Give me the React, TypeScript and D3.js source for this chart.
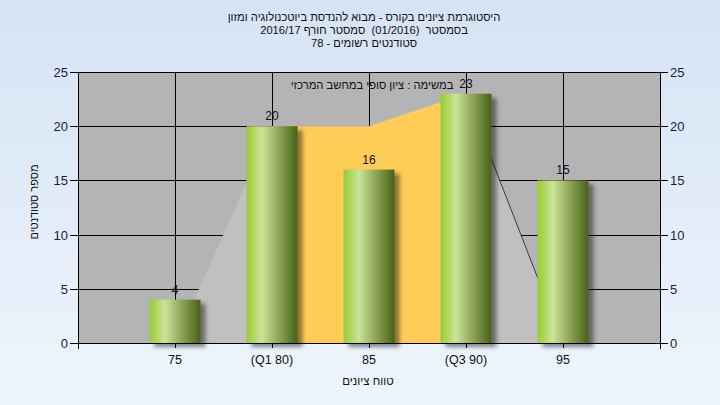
import React from "react";
import * as d3 from "d3";

const titleLines = [
  "היסטוגרמת ציונים בקורס - מבוא להנדסת ביוטכנולוגיה ומזון",
  "בסמסטר  (01/2016)  סמסטר חורף 2016/17",
  "סטודנטים רשומים - 78",
];
const grades = [75, 80, 85, 90, 95];
const categoryLabels = ["75", "(Q1 80)", "85", "(Q3 90)", "95"];
const counts = [4, 20, 16, 23, 15];
// background range area (light gray)
const rangeGrades = [75, 80, 85, 90, 95];
const rangeValues = [0, 20, 20, 23, 0];
// interquartile area (yellow)
const iqrGrades = [80, 85, 90];
const iqrValues = [20, 20, 23];
const yTicks = [0, 5, 10, 15, 20, 25];
const noteText = "במשימה : ציון סופי במחשב המרכזי";
const xTitle = "טווח ציונים";
const yTitle = "מספר סטודנטים";

const W = 720, H = 405;
const L = 78, R = 660, T = 72, B = 343;
const FONT = "'Liberation Sans', Arial, sans-serif";

export default function App() {
  const x = d3.scaleLinear().domain([70, 100]).range([L, R]);
  const y = d3.scaleLinear().domain([0, 25]).range([B, T]);
  const barW = 51;

  const rangeArea = d3
    .area<number>()
    .x((_, i) => x(rangeGrades[i]))
    .y0(y(0))
    .y1((d) => y(d));
  const iqrArea = d3
    .area<number>()
    .x((_, i) => x(iqrGrades[i]))
    .y0(y(0))
    .y1((d) => y(d));
  const n = rangeGrades.length;
  const edgeLine = d3.line<number>()([
    [x(rangeGrades[n - 2]), y(rangeValues[n - 2])],
    [x(rangeGrades[n - 1]), y(rangeValues[n - 1])],
  ] as any);

  return (
    <svg width={W} height={H} style={{ position: "absolute", left: 0, top: 0 }} fontFamily={FONT}>
      <defs>
        <linearGradient id="bg" x1="0" y1="0" x2="0" y2="1">
          <stop offset="0" stopColor="#d6e3f4" />
          <stop offset="1" stopColor="#eef5fd" />
        </linearGradient>
        <linearGradient id="bar" x1="0" y1="0" x2="1" y2="0">
          <stop offset="0" stopColor="#9acb36" />
          <stop offset="0.1" stopColor="#a9d351" />
          <stop offset="0.3" stopColor="#cbe498" />
          <stop offset="0.5" stopColor="#a7bd72" />
          <stop offset="0.75" stopColor="#76913f" />
          <stop offset="1" stopColor="#48601c" />
        </linearGradient>
        <filter id="shadow" x="-20%" y="-10%" width="150%" height="130%">
          <feDropShadow dx="5" dy="4" stdDeviation="2" floodColor="#000" floodOpacity="0.45" />
        </filter>
        <clipPath id="plot">
          <rect x={L} y={T} width={R - L} height={B - T} />
        </clipPath>
      </defs>
      <rect x={0} y={0} width={W} height={H} fill="url(#bg)" />

      {titleLines.map((t, i) => (
        <text key={i} x={364} y={21 + i * 13} textAnchor="middle" fontSize={11.2} fill="#111" direction="rtl" style={{ whiteSpace: "pre" }}>
          {t}
        </text>
      ))}

      <rect x={L} y={T} width={R - L} height={B - T} fill="#b4b4b4" />
      <g stroke="#000" strokeWidth={1}>
        {yTicks.map((t) => (
          <line key={"h" + t} x1={L} x2={R} y1={Math.round(y(t)) + 0.5} y2={Math.round(y(t)) + 0.5} />
        ))}
        {grades.map((g) => (
          <line key={"v" + g} x1={Math.round(x(g)) + 0.5} x2={Math.round(x(g)) + 0.5} y1={T} y2={B} />
        ))}
      </g>
      <g clipPath="url(#plot)">
        <path d={rangeArea(rangeValues) || ""} fill="#c0c0c0" />
        <path d={iqrArea(iqrValues) || ""} fill="#ffcc58" />
        <path d={edgeLine || ""} stroke="#3a3a3a" strokeWidth={1} fill="none" />
      </g>

      <text x={372} y={89} textAnchor="middle" fontSize={11.2} fill="#111" direction="rtl">
        {noteText}
      </text>

      {counts.map((c, i) => (
        <rect key={"b" + i} x={x(grades[i]) - barW / 2} y={y(c)} width={barW} height={y(0) - y(c)} fill="url(#bar)" filter="url(#shadow)" />
      ))}
      {counts.map((c, i) => (
        <text key={"l" + i} x={x(grades[i])} y={y(c) - 6} textAnchor="middle" fontSize={12} fill="#111">
          {c}
        </text>
      ))}

      <g stroke="#000" strokeWidth={1} fill="none">
        <line x1={L} x2={R + 0.5} y1={T + 0.5} y2={T + 0.5} />
        <line x1={L} x2={R + 0.5} y1={B + 0.5} y2={B + 0.5} />
        <line x1={L + 0.5} x2={L + 0.5} y1={T} y2={B + 6} />
        <line x1={R + 0.5} x2={R + 0.5} y1={T} y2={B + 6} />
        {yTicks.map((t) => (
          <line key={"lt" + t} x1={L - 8} x2={L} y1={Math.round(y(t)) + 0.5} y2={Math.round(y(t)) + 0.5} />
        ))}
        {yTicks.map((t) => (
          <line key={"rt" + t} x1={R} x2={R + 8} y1={Math.round(y(t)) + 0.5} y2={Math.round(y(t)) + 0.5} />
        ))}
        {grades.map((g) => (
          <line key={"xt" + g} x1={Math.round(x(g)) + 0.5} x2={Math.round(x(g)) + 0.5} y1={B} y2={B + 5} />
        ))}
      </g>

      {yTicks.map((t) => (
        <text key={"yl" + t} x={L - 10} y={y(t) + 5} textAnchor="end" fontSize={13} fill="#1b1b3a">
          {t}
        </text>
      ))}
      {yTicks.map((t) => (
        <text key={"yr" + t} x={R + 10} y={y(t) + 5} textAnchor="start" fontSize={13} fill="#1b1b3a">
          {t}
        </text>
      ))}
      {categoryLabels.map((c, i) => (
        <text key={"xl" + i} x={x(grades[i])} y={364} textAnchor="middle" fontSize={12.5} fill="#111">
          {c}
        </text>
      ))}
      <text x={368} y={385} textAnchor="middle" fontSize={11.5} fill="#111" direction="rtl">
        {xTitle}
      </text>
      <text transform={`translate(38,202) rotate(-90)`} textAnchor="middle" fontSize={11} fill="#111" direction="rtl">
        {yTitle}
      </text>
    </svg>
  );
}
